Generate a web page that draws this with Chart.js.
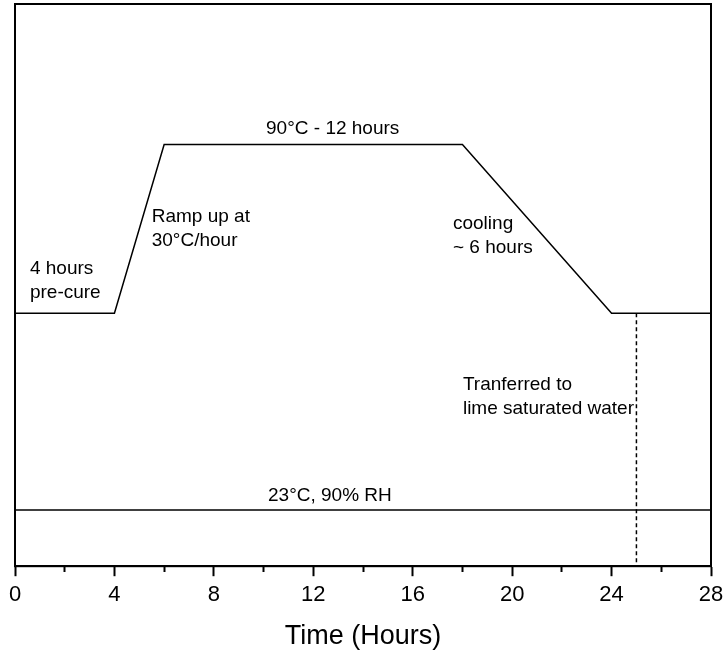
<!DOCTYPE html>
<html>
<head>
<meta charset="utf-8">
<script src="https://cdn.jsdelivr.net/npm/chart.js@4.4.1/dist/chart.umd.min.js"></script>
<style>
  html, body { margin: 0; padding: 0; background: #ffffff; }
  #wrap { width: 727px; height: 658px; }
</style>
</head>
<body>
<div id="wrap"><canvas id="c" width="727" height="658"></canvas></div>
<script>
// ---- data ----
const profileTimes = [0, 4, 6, 18, 24, 28];      // hours
const profileLevels = [30, 30, 90, 90, 30, 30];   // relative temperature level
const rhTimes = [0, 28];
const rhLevels = [-40, -40];                      // 23°C, 90% RH reference line
const transferTimes = [25, 25];
const transferLevels = [30, -60];                 // dashed marker: transferred to water
const xTickValues = [0, 4, 8, 12, 16, 20, 24, 28];

const notes = [
  { lines: ['4 hours', 'pre-cure'], x: 0.6, y: 44.1 },
  { lines: ['Ramp up at', '30°C/hour'], x: 5.5, y: 62.3 },
  { lines: ['90°C - 12 hours'], x: 10.1, y: 93.7 },
  { lines: ['cooling', '~ 6 hours'], x: 17.62, y: 60.1 },
  { lines: ['Tranferred to', 'lime saturated water'], x: 18.02, y: 2.6 },
  { lines: ['23°C, 90% RH'], x: 10.18, y: -36.7 }
];

const FONT = "'Liberation Sans', Arial, sans-serif";

function pts(xs, ys) { return xs.map((x, i) => ({ x: x, y: ys[i] })); }

const frame = {
  id: 'frame',
  afterDatasetsDraw(chart) {
    const { ctx, chartArea: a, scales } = chart;
    ctx.save();
    ctx.strokeStyle = '#000';
    ctx.lineWidth = 2;
    ctx.strokeRect(a.left, a.top, a.right - a.left, a.bottom - a.top);
    // annotations
    ctx.fillStyle = '#000';
    ctx.font = '19px ' + FONT;
    ctx.textAlign = 'left';
    ctx.textBaseline = 'alphabetic';
    notes.forEach(n => {
      const px = scales.x.getPixelForValue(n.x);
      const py = scales.y.getPixelForValue(n.y);
      n.lines.forEach((t, i) => ctx.fillText(t, px, py + i * 24));
    });
    ctx.restore();
  }
};

new Chart(document.getElementById('c'), {
  type: 'line',
  data: {
    datasets: [
      { data: pts(profileTimes, profileLevels), borderColor: '#000', borderWidth: 1.5, pointRadius: 0, tension: 0 },
      { data: pts(rhTimes, rhLevels), borderColor: '#000', borderWidth: 1.5, pointRadius: 0 },
      { data: pts(transferTimes, transferLevels), borderColor: '#000', borderWidth: 1.5, borderDash: [4, 3], pointRadius: 0 }
    ]
  },
  options: {
    responsive: false,
    animation: false,
    devicePixelRatio: 1,
    layout: { padding: { left: 15, right: 16, top: 4, bottom: 5 } },
    plugins: { legend: { display: false }, tooltip: { enabled: false } },
    scales: {
      x: {
        type: 'linear',
        min: 0, max: 28,
        afterBuildTicks(scale) {
          const t = [];
          for (let v = 0; v <= 28; v += 2) t.push({ value: v });
          scale.ticks = t;
        },
        afterFit(scale) {
          scale.paddingLeft = 0;
          scale.paddingRight = 0;
        },
        border: { display: true, color: '#000', width: 2 },
        grid: {
          drawOnChartArea: false,
          drawTicks: true,
          tickLength: 10,
          tickWidth: 2,
          tickColor: '#000',
          tickBorderDash: (ctx) => (xTickValues.includes(ctx.tick && ctx.tick.value) ? [] : [5, 40])
        },
        ticks: {
          autoSkip: false,
          maxRotation: 0,
          padding: 6,
          color: '#000',
          font: { family: FONT, size: 22 },
          callback: (v) => (xTickValues.includes(v) ? String(v) : '')
        },
        title: {
          display: true,
          text: 'Time (Hours)',
          color: '#000',
          font: { family: FONT, size: 27 },
          padding: { top: 6, bottom: 0 }
        }
      },
      y: {
        type: 'linear',
        display: false,
        min: -60, max: 140
      }
    }
  },
  plugins: [frame]
});
</script>
</body>
</html>
